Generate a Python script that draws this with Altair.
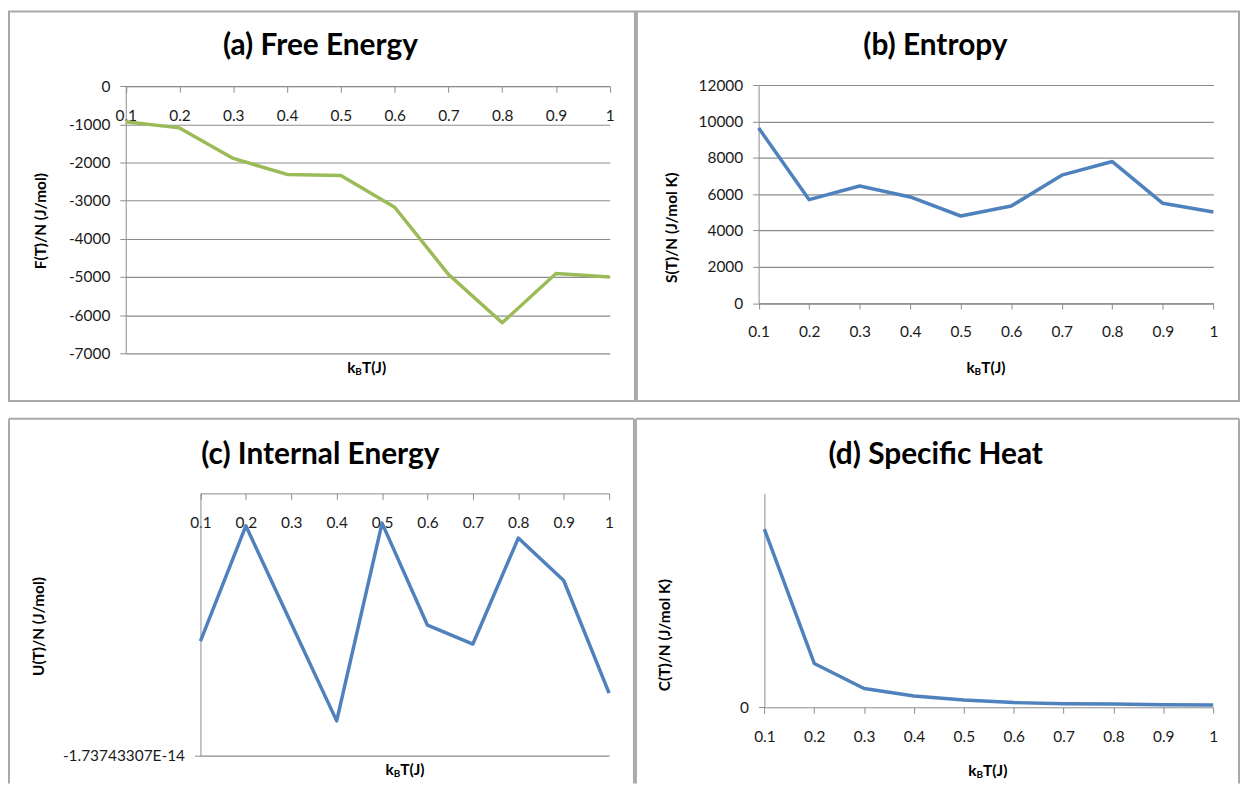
import altair as alt
import pandas as pd

# ---------------- data ----------------
kbt = [0.1, 0.2, 0.3, 0.4, 0.5, 0.6, 0.7, 0.8, 0.9, 1.0]
free_energy = [-930, -1090, -1890, -2310, -2340, -3170, -4930, -6200, -4910, -5000]
entropy = [9650, 5700, 6450, 5850, 4800, 5350, 7050, 7800, 5500, 5020]
internal_energy = [-0.978e-14, -0.215e-14, -0.862e-14, -1.507e-14, -0.197e-14,
                   -0.873e-14, -0.998e-14, -0.296e-14, -0.577e-14, -1.323e-14]
specific_heat = [0.833, 0.205, 0.088, 0.053, 0.034, 0.022, 0.017, 0.015, 0.012, 0.011]

f_ticks = [0, -1000, -2000, -3000, -4000, -5000, -6000, -7000]
s_ticks = [0, 2000, 4000, 6000, 8000, 10000, 12000]
u_min = -1.73743307e-14
u_min_label = "-1.73743307E-14"
c_ticks = [0]

titles = ["(a) Free Energy", "(b) Entropy", "(c) Internal Energy", "(d) Specific Heat"]
y_titles = ["F(T)/N (J/mol)", "S(T)/N (J/mol K)", "U(T)/N (J/mol)", "C(T)/N (J/mol K)"]

FONT = "Lato"
GRID = "#8C8C8C"
BORDER = "#A8A8A8"
LABEL = "#1a1a1a"
GREEN = "#9BBB59"
BLUE = "#4F81BD"
LABEL_SIZE = 15.5
AXT_SIZE = 15.5

one = pd.DataFrame({"k": [0]})


def build_panel(W, H, values, color, xr, yr, ydom, yvals, ylabel_expr, ygrid,
                xaxis_y, title, title_xy, ytitle, ytitle_xy, xtitle_xy, closed):
    df = pd.DataFrame({"kbt": kbt, "v": values})
    layers = []
    # panel border
    if closed:
        layers.append(
            alt.Chart(one).mark_rect(fillOpacity=0, stroke=BORDER, strokeWidth=2).encode(
                x=alt.value(1), x2=alt.value(W - 1), y=alt.value(1), y2=alt.value(H - 1))
        )
    else:
        rule = alt.Chart(one).mark_rule(color=BORDER, strokeWidth=2)
        layers.append(rule.encode(x=alt.value(1), x2=alt.value(W - 1), y=alt.value(1)))
        layers.append(rule.encode(x=alt.value(1), y=alt.value(1), y2=alt.value(H)))
        layers.append(rule.encode(x=alt.value(W - 1), y=alt.value(1), y2=alt.value(H)))

    line = alt.Chart(df).mark_line(color=color, strokeWidth=3.5, strokeJoin="round").encode(
        x=alt.X("kbt:Q",
                scale=alt.Scale(domain=[0.1, 1.0], range=xr, nice=False, zero=False),
                axis=alt.Axis(orient="bottom", offset=-(H - xaxis_y), values=kbt,
                              format=".1~f", tickSize=6, labelPadding=16, grid=False,
                              domainColor=GRID, tickColor=GRID, labelFont=FONT,
                              labelFontSize=LABEL_SIZE, labelColor=LABEL, title=None,
                              labelFlush=False, labelOverlap=False)),
        y=alt.Y("v:Q",
                scale=alt.Scale(domain=ydom, range=yr, nice=False, zero=False),
                axis=alt.Axis(orient="left", offset=-xr[0], values=yvals,
                              labelExpr=ylabel_expr, tickSize=6, labelPadding=10,
                              grid=ygrid, gridColor=GRID, gridWidth=1.2,
                              domainColor=GRID, tickColor=GRID, labelFont=FONT,
                              labelFontSize=LABEL_SIZE, labelColor=LABEL, title=None,
                              labelOverlap=False, labelFlush=False)),
    )
    layers.append(line)

    # main title
    layers.append(
        alt.Chart(one).mark_text(text=title, font=FONT, fontSize=30, fontWeight="bold",
                                 color="#000000", align="center", baseline="middle").encode(
            x=alt.value(title_xy[0]), y=alt.value(title_xy[1]))
    )
    # y axis title
    layers.append(
        alt.Chart(one).mark_text(text=ytitle, font=FONT, fontSize=AXT_SIZE, fontWeight="bold",
                                 color="#000000", align="center", baseline="middle",
                                 angle=270).encode(
            x=alt.value(ytitle_xy[0]), y=alt.value(ytitle_xy[1]))
    )
    # x axis title  k_B T(J)
    left = xtitle_xy[0] - 20
    cy = xtitle_xy[1]
    txt = dict(font=FONT, fontWeight="bold", color="#000000", align="left", baseline="middle")
    layers.append(alt.Chart(one).mark_text(text="k", fontSize=AXT_SIZE, **txt).encode(
        x=alt.value(left), y=alt.value(cy)))
    layers.append(alt.Chart(one).mark_text(text="B", fontSize=10, **txt).encode(
        x=alt.value(left + 8.2), y=alt.value(cy + 3.8)))
    layers.append(alt.Chart(one).mark_text(text="T(J)", fontSize=AXT_SIZE, **txt).encode(
        x=alt.value(left + 14.8), y=alt.value(cy)))

    return alt.layer(*layers).properties(width=W, height=H)


neg_expr = "datum.value == 0 ? '0' : '-' + format(abs(datum.value), 'd')"

pa = build_panel(632, 394, free_energy, GREEN, [118.5, 605.7], [345, 76.3], [-7000, 0],
                 f_ticks, neg_expr, True, 76.3, titles[0], (314.4, 35.3),
                 y_titles[0], (33, 212), (361.4, 360.3), True)
pb = build_panel(608, 394, entropy, BLUE, [123.5, 581.2], [294.5, 75.3], [0, 12000],
                 s_ticks, "format(datum.value, 'd')", True, 294.5, titles[1], (301.4, 35.3),
                 y_titles[1], (36.8, 218.7), (352.7, 360.3), True)
pc = build_panel(631, 368, internal_energy, BLUE, [193.7, 605], [340, 76], [u_min, 0],
                 [u_min], f"'{u_min_label}'", True, 76, titles[2], (314.4, 37),
                 y_titles[2], (30.8, 210), (400, 354.7), False)
pd_ = build_panel(609, 368, specific_heat, BLUE, [130.3, 582], [291.3, 76], [0, 1],
                  c_ticks, "format(datum.value, 'd')", False, 291.3, titles[3], (302.7, 37),
                  y_titles[3], (30, 218.7), (355.6, 355.3), False)

chart = alt.vconcat(
    alt.hconcat(pa, pb, spacing=0),
    alt.hconcat(pc, pd_, spacing=0),
    spacing=16,
).configure_view(stroke=None).properties(padding=0, background="white")

chart.save("out.html", embed_options={"renderer": "svg", "actions": False})
